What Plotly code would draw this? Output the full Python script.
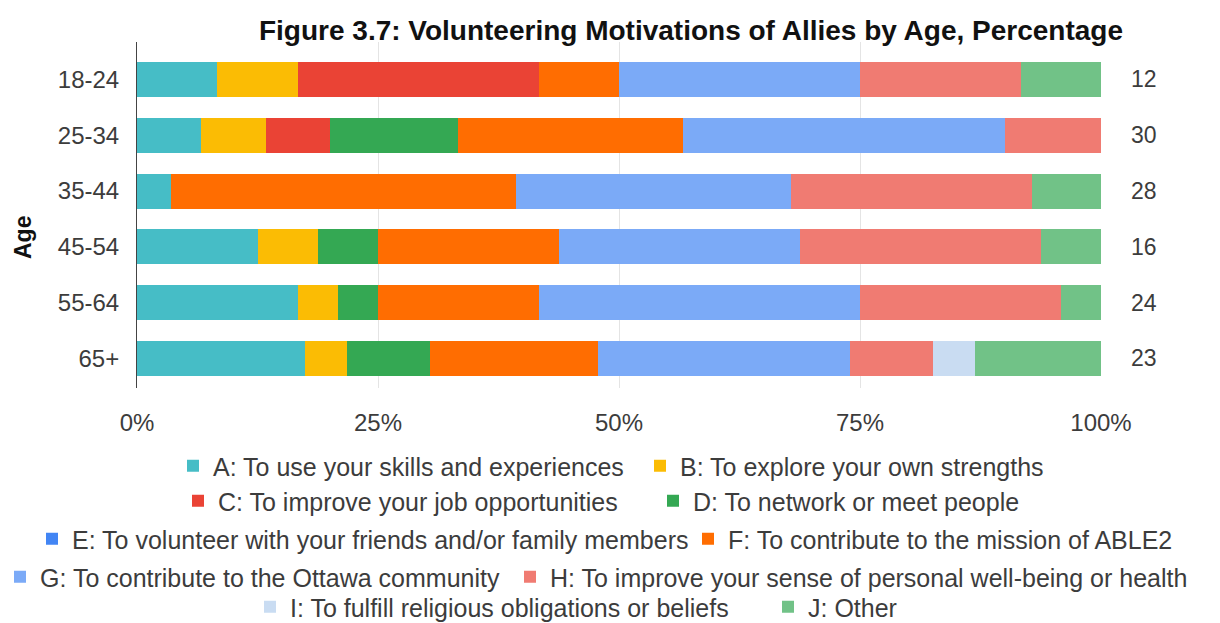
import plotly.graph_objects as go

# Age groups (top to bottom) and number of respondents in each
age_groups = ["18-24", "25-34", "35-44", "45-54", "55-64", "65+"]
respondents = [12, 30, 28, 16, 24, 23]

# Number of allies choosing each motivation, per age group
mot_a = [1, 2, 1, 2, 4, 4]
mot_b = [1, 2, 0, 1, 1, 1]
mot_c = [3, 2, 0, 0, 0, 0]
mot_d = [0, 4, 0, 1, 1, 2]
mot_e = [0, 0, 0, 0, 0, 0]
mot_f = [1, 7, 10, 3, 4, 4]
mot_g = [3, 10, 8, 4, 8, 6]
mot_h = [2, 3, 7, 4, 5, 2]
mot_i = [0, 0, 0, 0, 0, 1]
mot_j = [1, 0, 2, 1, 1, 3]

motivation_labels = [
    "A: To use your skills and experiences",
    "B: To explore your own strengths",
    "C: To improve your job opportunities",
    "D: To network or meet people",
    "E: To volunteer with your friends and/or family members",
    "F: To contribute to the mission of ABLE2",
    "G: To contribute to the Ottawa community",
    "H: To improve your sense of personal well-being or health",
    "I: To fulfill religious obligations or beliefs",
    "J: Other",
]
motivation_counts = [mot_a, mot_b, mot_c, mot_d, mot_e, mot_f, mot_g, mot_h, mot_i, mot_j]

x_ticks = [0, 25, 50, 75, 100]
x_tick_text = ["0%", "25%", "50%", "75%", "100%"]

colors = ["#46BDC6", "#FBBC04", "#EA4335", "#34A853", "#4285F4",
          "#FF6D01", "#7BAAF7", "#F07B72", "#C9DCF2", "#71C287"]

W, H = 1220, 623
PLOT_L, PLOT_R, PLOT_T, PLOT_B = 137, 1101, 42, 388
FONT = "Arial, Liberation Sans, sans-serif"
TEXT = "#3c3c3c"

# Legend entries: pixel x where the label text begins, pixel y of the row centre
legend_text_x = [213, 680, 218, 693, 72, 728, 35, 550, 290, 808]
legend_row_y = [466, 466, 501, 501, 539, 539, 577, 577, 607, 607]

fig = go.Figure()
legend_layouts = {}
for k, (label, counts) in enumerate(zip(motivation_labels, motivation_counts)):
    key = "legend" if k == 0 else f"legend{k + 1}"
    fig.add_trace(go.Bar(
        y=age_groups,
        x=counts,
        name=label,
        orientation="h",
        marker=dict(color=colors[k], line=dict(width=0)),
        legend=key,
        showlegend=True,
        hoverinfo="skip",
    ))
    legend_layouts[key] = dict(
        orientation="h",
        x=(legend_text_x[k] - 40) / W, xref="container", xanchor="left",
        y=1 - legend_row_y[k] / H, yref="container", yanchor="middle",
        font=dict(family=FONT, size=25, color=TEXT),
        bgcolor="rgba(0,0,0,0)",
        itemclick=False, itemdoubleclick=False,
    )

# Respondent counts on the right of each bar
for grp, n in zip(age_groups, respondents):
    fig.add_annotation(
        x=1, xref="paper", y=grp, yref="y",
        text=str(n), showarrow=False,
        xanchor="left", xshift=28,
        font=dict(family=FONT, size=23, color=TEXT),
    )

# Rotated axis title
fig.add_annotation(
    x=(23 - PLOT_L) / (PLOT_R - PLOT_L), xref="paper",
    y=(PLOT_B - 238) / (PLOT_B - PLOT_T), yref="paper",
    text="<b>Age</b>", showarrow=False, textangle=-90,
    xanchor="center", yanchor="middle",
    font=dict(family=FONT, size=23, color="#111111"),
)

fig.update_layout(
    width=W, height=H,
    showlegend=True,
    barmode="stack",
    barnorm="percent",
    bargap=0.373,
    paper_bgcolor="white",
    plot_bgcolor="white",
    margin=dict(l=PLOT_L, r=W - PLOT_R, t=PLOT_T, b=H - PLOT_B, autoexpand=False),
    title=dict(
        text="<b>Figure 3.7: Volunteering Motivations of Allies by Age, Percentage</b>",
        x=691 / W, xref="container", xanchor="center",
        y=1 - 30 / H, yref="container", yanchor="middle",
        font=dict(family=FONT, size=28, color="#111111"),
    ),
    xaxis=dict(
        range=[0, 100],
        tickvals=x_ticks, ticktext=x_tick_text,
        showgrid=True, gridcolor="#e4e4e4", gridwidth=1,
        zeroline=False, showline=False,
        ticks="", ticklabelstandoff=18,
        tickfont=dict(family=FONT, size=24, color=TEXT),
        fixedrange=True,
    ),
    yaxis=dict(
        type="category",
        categoryorder="array", categoryarray=age_groups,
        range=[5.53, -0.672],
        showgrid=False, zeroline=False,
        showline=True, linecolor="#444444", linewidth=1,
        ticks="", ticklabelstandoff=12,
        tickfont=dict(family=FONT, size=24, color=TEXT),
        fixedrange=True,
    ),
    **legend_layouts,
)

fig.write_html("out.html")
